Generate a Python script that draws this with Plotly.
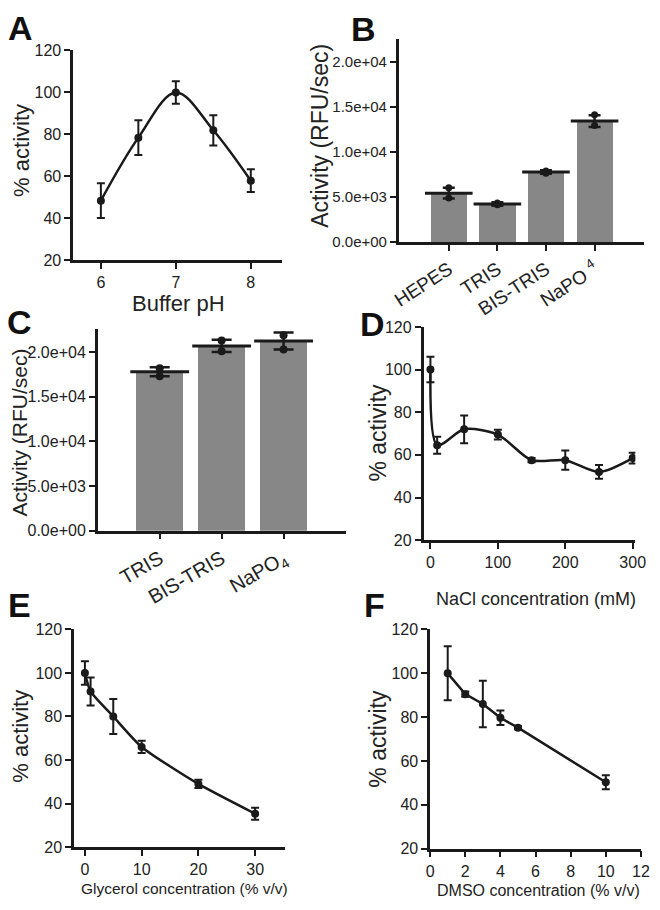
import plotly.graph_objects as go

# ---- data ----
# A: buffer pH
ph = [6, 6.5, 7, 7.5, 8]
ph_act = [48.5, 78.5, 100, 82, 58]
ph_err = [8.3, 8.3, 5.4, 7.2, 5.4]

# B: buffer type
b_buffers = ["HEPES", "TRIS", "BIS-TRIS", "NaPO <sup>4</sup>"]
b_mean = [5450, 4250, 7800, 13450]
b_sd = [600, 200, 200, 650]
b_rep1 = [6050, 4350, 7900, 14150]
b_rep2 = [4900, 4150, 7650, 12950]

# C: buffer type (second run)
c_buffers = ["TRIS", "BIS-TRIS", "NaPO<sub>4</sub>"]
c_mean = [17800, 20700, 21250]
c_sd = [500, 680, 950]
c_rep1 = [18200, 21300, 21900]
c_rep2 = [17300, 20100, 20300]

# D: NaCl
nacl = [0, 10, 50, 100, 150, 200, 250, 300]
nacl_act = [100, 64.5, 72, 69.5, 57.5, 57.5, 52, 58.5]
nacl_err = [6, 4, 6.5, 2.3, 1, 4.5, 3.2, 2.5]

# E: glycerol
gly = [0, 1, 5, 10, 20, 30]
gly_act = [100, 91.5, 80, 66, 49, 35.3]
gly_err = [5.4, 6.4, 8, 2.8, 1.9, 2.8]

# F: DMSO
dmso = [1, 2, 3, 4, 5, 10]
dmso_act = [100, 90.5, 86, 79.7, 75.2, 50.3]
dmso_err = [12.3, 1.2, 10.6, 3.3, 0.7, 3.2]

W, H = 660, 910
FONT = "Arial, Liberation Sans, sans-serif"
INK = "#1a1a1a"
TXT = "#222222"
GREY = "#878787"


def fx(p):
    return p / W


def fy(p):
    return 1 - p / H


fig = go.Figure()


def axis_style(x0, x1, ytop, ybot, xid, yid, xrange, yrange, tick_size=16):
    """ Sets up one x/y axis pair from pixel positions. """
    common = dict(showline=True, linewidth=2.5, linecolor=INK, ticks="outside",
                  ticklen=6, tickwidth=2, tickcolor=INK, showgrid=False,
                  zeroline=False, tickfont=dict(family=FONT, size=tick_size, color=TXT))
    xname = "xaxis" if xid == 1 else f"xaxis{xid}"
    yname = "yaxis" if yid == 1 else f"yaxis{yid}"
    fig.update_layout({
        xname: dict(domain=[fx(x0), fx(x1)], range=xrange, anchor="y" if yid == 1 else f"y{yid}", **common),
        yname: dict(domain=[fy(ybot), fy(ytop)], range=yrange, anchor="x" if xid == 1 else f"x{xid}", **common),
    })


def add_curve(x, y, err, n, shape="spline", smoothing=1.0):
    xa = "x" if n == 1 else f"x{n}"
    ya = "y" if n == 1 else f"y{n}"
    fig.add_trace(go.Scatter(
        x=x, y=y, xaxis=xa, yaxis=ya, mode="lines+markers",
        line=dict(color=INK, width=2.5, shape=shape, smoothing=smoothing),
        marker=dict(color=INK, size=8),
        error_y=dict(type="data", array=err, color=INK, thickness=2, width=4),
        showlegend=False,
    ))


def add_bars(means, sds, rep1, rep2, n, bar_w, mean_len, cap, dot):
    xa, ya = f"x{n}", f"y{n}"
    xs = list(range(len(means)))
    fig.add_trace(go.Bar(x=xs, y=means, xaxis=xa, yaxis=ya, width=bar_w,
                         marker=dict(color=GREY, line=dict(width=0)), showlegend=False))
    # mean line + SD whiskers
    fig.add_trace(go.Scatter(
        x=xs, y=means, xaxis=xa, yaxis=ya, mode="markers",
        marker=dict(symbol="line-ew", size=mean_len, line=dict(color=INK, width=3)),
        error_y=dict(type="data", array=sds, color=INK, thickness=2.5, width=cap),
        showlegend=False,
    ))
    # replicates
    fig.add_trace(go.Scatter(
        x=xs + xs, y=rep1 + rep2, xaxis=xa, yaxis=ya, mode="markers",
        marker=dict(color=INK, size=dot), showlegend=False,
    ))


# A
axis_style(68, 283, 43.3, 257.3, 1, 1, [5.63, 8.42], [20, 120])
fig.update_layout(xaxis=dict(tickvals=[6, 7, 8]), yaxis=dict(tickvals=[20, 40, 60, 80, 100, 120]))
add_curve(ph, ph_act, ph_err, 1)

# B
axis_style(402.7, 655, 31.7, 238.7, 2, 2, [-1.03, 4.02], [0, 22550], tick_size=15)
fig.update_layout(
    xaxis2=dict(tickvals=[0, 1, 2, 3], ticktext=b_buffers, tickangle=-33,
                tickfont=dict(size=19)),
    yaxis2=dict(tickvals=[0, 5000, 10000, 15000, 20000],
                ticktext=["0.0e+00", "5.0e+03", "1.0e+04", "1.5e+04", "2.0e+04"]),
)
add_bars(b_mean, b_sd, b_rep1, b_rep2, 2, 0.75, 34, 6, 7)

# C
axis_style(93.3, 348, 326.7, 532.7, 3, 3, [-1.0, 3.0], [0, 22640], tick_size=16)
fig.update_layout(
    xaxis3=dict(tickvals=[0, 1, 2], ticktext=c_buffers, tickangle=-30,
                tickfont=dict(size=20)),
    yaxis3=dict(tickvals=[0, 5000, 10000, 15000, 20000],
                ticktext=["0.0e+00", "5.0e+03", "1.0e+04", "1.5e+04", "2.0e+04"]),
)
add_bars(c_mean, c_sd, c_rep1, c_rep2, 3, 0.76, 42, 10, 8)

# D
axis_style(428.3, 646, 325, 542.3, 4, 4, [-10.1, 304], [20, 120])
fig.update_layout(xaxis4=dict(tickvals=[0, 100, 200, 300]),
                  yaxis4=dict(tickvals=[20, 40, 60, 80, 100, 120]))
add_curve(nacl, nacl_act, nacl_err, 4, smoothing=0.8)

# E
axis_style(69, 286, 633.3, 855, 5, 5, [-1.9, 35.3], [20, 120])
fig.update_layout(xaxis5=dict(tickvals=[0, 10, 20, 30]),
                  yaxis5=dict(tickvals=[20, 40, 60, 80, 100, 120]))
add_curve(gly, gly_act, gly_err, 5, smoothing=0.6)

# F
axis_style(435, 651.7, 633.3, 856.7, 6, 6, [0, 12], [20, 120])
fig.update_layout(xaxis6=dict(tickvals=[0, 2, 4, 6, 8, 10, 12]),
                  yaxis6=dict(tickvals=[20, 40, 60, 80, 100, 120]))
add_curve(dmso, dmso_act, dmso_err, 6, shape="linear")


# axis titles and panel letters as paper annotations
def label(text, x, y, size, angle=0, bold=False):
    fig.add_annotation(
        x=fx(x), y=fy(y), xref="paper", yref="paper", text=f"<b>{text}</b>" if bold else text,
        showarrow=False, textangle=angle, xanchor="center", yanchor="middle",
        font=dict(family=FONT, size=size, color="#111111" if bold else TXT),
    )


label("% activity", 15, 145, 22, -90)
label("Buffer pH", 176, 301, 22)
label("Activity (RFU/sec)", 321, 130, 23, -90)
label("Activity (RFU/sec)", 13, 433, 21, -90)
label("% activity", 381, 433, 23, -90)
label("NaCl concentration (mM)", 544, 602, 18)
label("% activity", 14, 742, 22, -90)
label("Glycerol concentration (% v/v)", 182, 897, 15.5)
label("% activity", 381, 745, 23, -90)
label("DMSO concentration (% v/v)", 546, 899, 16)

for letter, x, y in [("A", 14, 20), ("B", 366, 21), ("C", 13, 320),
                     ("D", 376, 322), ("E", 13, 608), ("F", 378, 608)]:
    label(letter, x, y, 34, bold=True)

fig.update_layout(
    width=W, height=H, margin=dict(l=0, r=0, t=0, b=0),
    paper_bgcolor="white", plot_bgcolor="white",
    font=dict(family=FONT, color=TXT), showlegend=False, bargap=0,
)

# drop the browser's default body margin so the figure sits at 0,0, no modebar
fig.write_html("out.html", config={"displayModeBar": False},
               post_script="document.body.style.margin='0';document.body.style.overflow='hidden';")
